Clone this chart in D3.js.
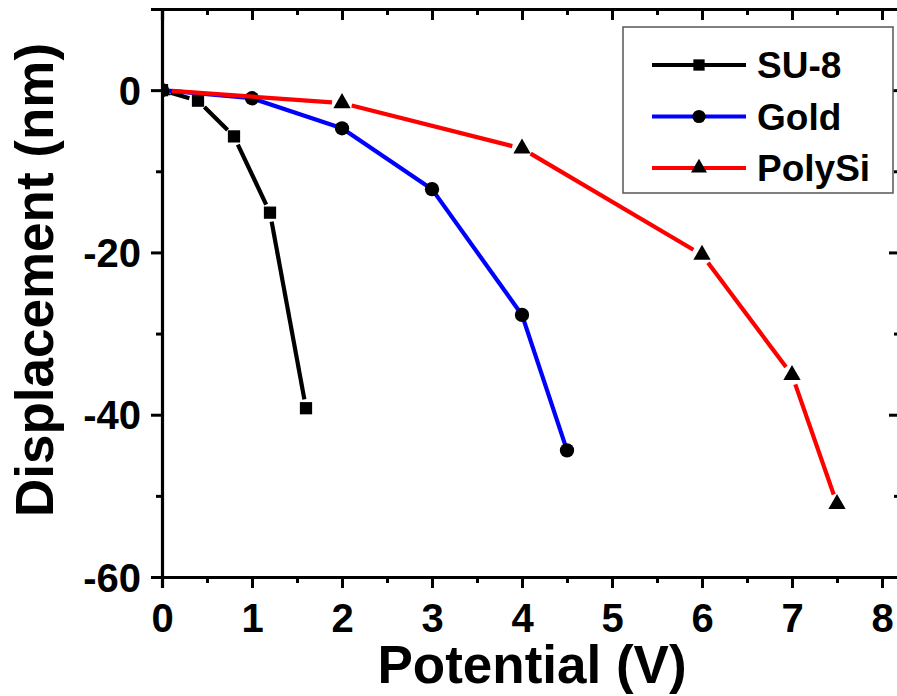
<!DOCTYPE html>
<html>
<head>
<meta charset="utf-8">
<script src="https://cdn.jsdelivr.net/npm/d3@7"></script>
<style>
  body { margin: 0; background: #fff; }
  svg { display: block; font-family: "Liberation Sans", Arial, sans-serif; font-weight: bold; }
</style>
</head>
<body>
<svg id="chart" width="897" height="696"></svg>
<script>
"use strict";

// Data
const su8Potential    = [0, 0.4, 0.8, 1.2, 1.6];
const su8Displacement = [0, -1.3, -5.7, -15.1, -39.2];

const goldPotential    = [0, 1, 2, 3, 4, 4.5];
const goldDisplacement = [0, -1.0, -4.7, -12.2, -27.7, -44.4];

const polySiPotential    = [0, 2, 4, 6, 7, 7.5];
const polySiDisplacement = [0, -1.6, -7.2, -20.3, -35.1, -51.0];

const seriesNames = ["SU-8", "Gold", "PolySi"];
const xMajorTicks = [0, 1, 2, 3, 4, 5, 6, 7, 8];
const xMinorTicks = [0.5, 1.5, 2.5, 3.5, 4.5, 5.5, 6.5, 7.5];
const yMajorTicks = [0, -20, -40, -60];
const yMinorTicks = [10, -10, -30, -50];

const series = [
  { name: seriesNames[0], x: su8Potential, y: su8Displacement, color: "#000000", symbol: d3.symbolSquare, size: 150, gap: 9 },
  { name: seriesNames[1], x: goldPotential, y: goldDisplacement, color: "#0000ff", symbol: d3.symbolCircle, size: 160, gap: 0 },
  { name: seriesNames[2], x: polySiPotential, y: polySiDisplacement, color: "#ff0000", symbol: d3.symbolTriangle, size: 130, gap: 10 }
];

const svg = d3.select("#chart");
const plotLeft = 162, plotRight = 900, plotTop = 9, plotBottom = 577;

const x = d3.scaleLinear().domain([0, 8.2]).range([plotLeft, plotRight]);
const y = d3.scaleLinear().domain([-60, 10]).range([plotBottom, plotTop]);

// clip the marks to the plot frame
svg.append("clipPath").attr("id", "plot-clip")
  .append("rect")
  .attr("x", plotLeft).attr("y", plotTop)
  .attr("width", plotRight - plotLeft).attr("height", plotBottom - plotTop);

/**
 * Draws one axis with its major and minor ticks.
 */
function drawAxis(axisFn, scale, translate, major, minor, majorSize, minorSize, labels) {
  let gMinor = svg.append("g")
    .attr("transform", translate)
    .call(axisFn(scale).tickValues(minor).tickSize(minorSize).tickFormat(""));
  gMinor.select(".domain").remove();

  let g = svg.append("g")
    .attr("transform", translate)
    .call(axisFn(scale).tickValues(major).tickSize(majorSize).tickFormat(labels ? d => String(d) : ""));
  g.selectAll("line, path").attr("stroke", "#000").attr("stroke-width", 3);
  gMinor.selectAll("line").attr("stroke", "#000").attr("stroke-width", 3);
  g.select(".domain").attr("stroke-width", 3.2);
  g.selectAll("text")
    .attr("fill", "#000")
    .style("font-size", "40px")
    .style("font-weight", "bold")
    .style("font-family", "'Liberation Sans', Arial, sans-serif");
  return g;
}

let bottomAxis = drawAxis(d3.axisBottom, x, `translate(0,${plotBottom})`, xMajorTicks, xMinorTicks, 11, 6, true);
bottomAxis.selectAll("text").attr("y", 55).attr("dy", 0);

drawAxis(d3.axisTop, x, `translate(0,${plotTop})`, xMajorTicks, xMinorTicks, -11, -6, false);

let leftAxis = drawAxis(d3.axisLeft, y, `translate(${plotLeft},0)`, yMajorTicks, yMinorTicks, 11, 6, true);
leftAxis.selectAll("text").attr("x", -21).attr("dy", "0.35em");

drawAxis(d3.axisRight, y, `translate(${plotRight},0)`, yMajorTicks, yMinorTicks, -11, -6, false);

// series: line segments with small gaps round the symbols, then the symbols
let plot = svg.append("g").attr("clip-path", "url(#plot-clip)");

series.forEach(s => {
  let pts = s.x.map((v, i) => [x(v), y(s.y[i])]);
  let segs = d3.pairs(pts).map(([a, b]) => {
    let dx = b[0] - a[0], dy = b[1] - a[1];
    let len = Math.hypot(dx, dy);
    let k = Math.min(s.gap, len / 2) / len;
    return [[a[0] + dx * k, a[1] + dy * k], [b[0] - dx * k, b[1] - dy * k]];
  });

  plot.append("g").selectAll("line")
    .data(segs)
    .enter()
    .append("line")
      .attr("x1", d => d[0][0]).attr("y1", d => d[0][1])
      .attr("x2", d => d[1][0]).attr("y2", d => d[1][1])
      .attr("stroke", s.color)
      .attr("stroke-width", 4.2);

  plot.append("g").selectAll("path")
    .data(pts)
    .enter()
    .append("path")
      .attr("transform", d => `translate(${d[0]},${d[1]})`)
      .attr("d", d3.symbol().type(s.symbol).size(s.size))
      .attr("fill", "#000");
});

// axis titles
svg.append("text")
  .attr("x", 532).attr("y", 683)
  .attr("text-anchor", "middle")
  .style("font-size", "53px")
  .text("Potential (V)");

svg.append("text")
  .attr("transform", "translate(53,280) rotate(-90)")
  .attr("text-anchor", "middle")
  .style("font-size", "53px")
  .text("Displacement (nm)");

// legend
let legend = svg.append("g");
legend.append("rect")
  .attr("x", 623).attr("y", 27)
  .attr("width", 270).attr("height", 166)
  .attr("fill", "#fff")
  .attr("stroke", "#555")
  .attr("stroke-width", 1.5);

let rows = legend.selectAll("g.row")
  .data(series)
  .enter()
  .append("g")
  .classed("row", true)
  .attr("transform", (d, i) => `translate(0,${65 + i * 51.5})`);

rows.append("line")
  .attr("x1", 652).attr("x2", 746)
  .attr("stroke", d => d.color)
  .attr("stroke-width", 4.2);

rows.append("path")
  .attr("transform", "translate(699,0)")
  .attr("d", d => d3.symbol().type(d.symbol).size(d.size * 0.85)())
  .attr("fill", "#000");

rows.append("text")
  .attr("x", 757).attr("y", 13)
  .style("font-size", "37px")
  .text(d => d.name);
</script>
</body>
</html>
